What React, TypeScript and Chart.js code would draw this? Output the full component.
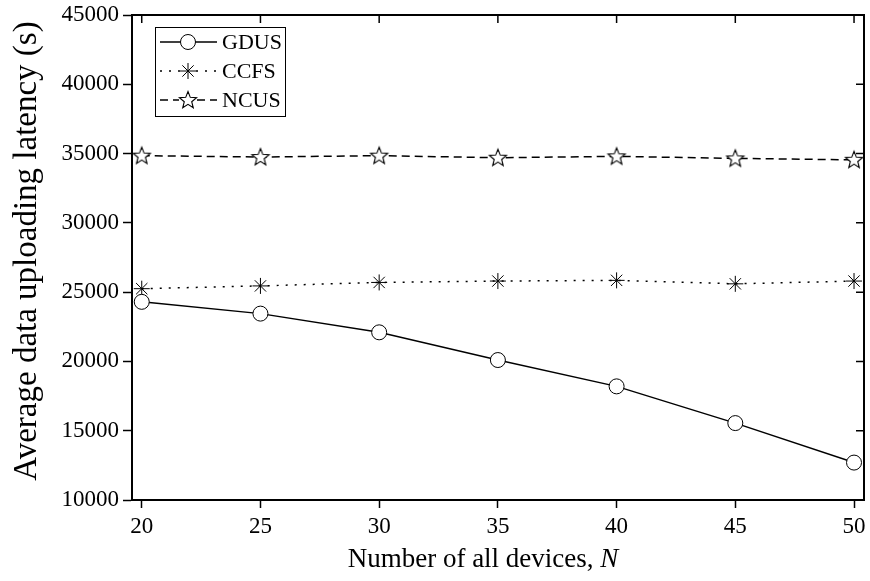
import React, { useEffect, useRef } from 'react';
import { Chart, registerables } from 'chart.js';

Chart.register(...registerables);

const deviceCounts = [20, 25, 30, 35, 40, 45, 50];
const gdusLatency = [24300, 23450, 22100, 20100, 18200, 15550, 12700];
const ccfsLatency = [25250, 25450, 25700, 25800, 25850, 25600, 25800];
const ncusLatency = [34850, 34750, 34850, 34700, 34800, 34650, 34550];
const xTickValues = [20, 25, 30, 35, 40, 45, 50];
const yTickValues = [10000, 15000, 20000, 25000, 30000, 35000, 40000, 45000];
const seriesNames = ['GDUS', 'CCFS', 'NCUS'];
const xAxisTitle = 'Number of all devices, ';
const xAxisVar = 'N';
const yAxisTitle = 'Average data uploading latency (s)';

const FONT = '"Liberation Serif", "Times New Roman", serif';

function makeStar(): HTMLCanvasElement {
  const c = document.createElement('canvas');
  c.width = 22;
  c.height = 22;
  const g = c.getContext('2d')!;
  const R = 9;
  const r = 3.9;
  g.beginPath();
  for (let i = 0; i < 10; i++) {
    const rad = i % 2 === 0 ? R : r;
    const a = -Math.PI / 2 + (i * Math.PI) / 5;
    const px = 11 + rad * Math.cos(a);
    const py = 11.5 + rad * Math.sin(a);
    if (i === 0) g.moveTo(px, py);
    else g.lineTo(px, py);
  }
  g.closePath();
  g.fillStyle = '#fff';
  g.fill();
  g.lineWidth = 1.1;
  g.strokeStyle = '#000';
  g.stroke();
  return c;
}

const zeroPadding = () => ({ left: 0, top: 0, right: 0, bottom: 0 });

export default function App() {
  const ref = useRef<HTMLCanvasElement | null>(null);

  useEffect(() => {
    if (!ref.current) return;
    const star = makeStar();

    const framePlugin = {
      id: 'framePlugin',
      afterDraw(chart: any) {
        const ctx = chart.ctx as CanvasRenderingContext2D;
        const { left, right, top, bottom } = chart.chartArea;
        const xs = chart.scales.x;
        const ys = chart.scales.y;
        ctx.save();
        ctx.strokeStyle = '#000';
        ctx.lineWidth = 2;
        ctx.beginPath();
        ctx.moveTo(left - 1, top);
        ctx.lineTo(right, top);
        ctx.lineTo(right, bottom + 1);
        ctx.stroke();
        ctx.lineWidth = 1.5;
        ctx.beginPath();
        xTickValues.forEach((v) => {
          const px = xs.getPixelForValue(v);
          ctx.moveTo(px, top);
          ctx.lineTo(px, top + 8);
        });
        yTickValues.forEach((v) => {
          const py = ys.getPixelForValue(v);
          ctx.moveTo(right, py);
          ctx.lineTo(right - 8, py);
        });
        ctx.stroke();

        // axis titles
        ctx.fillStyle = '#000';
        ctx.textBaseline = 'middle';
        ctx.font = `27px ${FONT}`;
        const w1 = ctx.measureText(xAxisTitle).width;
        ctx.font = `italic 27px ${FONT}`;
        const w2 = ctx.measureText(xAxisVar).width;
        const cx = 483;
        const startX = cx - (w1 + w2) / 2;
        ctx.textAlign = 'left';
        ctx.font = `27px ${FONT}`;
        ctx.fillText(xAxisTitle, startX, 560);
        ctx.font = `italic 27px ${FONT}`;
        ctx.fillText(xAxisVar, startX + w1, 560);

        ctx.save();
        ctx.translate(27, 251);
        ctx.rotate(-Math.PI / 2);
        ctx.textAlign = 'center';
        ctx.font = `33px ${FONT}`;
        ctx.fillText(yAxisTitle, 0, 0);
        ctx.restore();

        // legend
        const bx = 155.5, by = 27.5, bw = 130, bh = 89;
        ctx.fillStyle = '#fff';
        ctx.fillRect(bx, by, bw, bh);
        ctx.strokeStyle = '#000';
        ctx.lineWidth = 1;
        ctx.strokeRect(bx, by, bw, bh);
        const rows = [42, 71, 100];
        const dashes = [[], [2, 7], [8, 5]];
        const x0 = 160, x1 = 217, mx = 188;
        rows.forEach((ry, i) => {
          ctx.save();
          ctx.strokeStyle = '#000';
          ctx.lineWidth = 1.5;
          ctx.setLineDash(dashes[i]);
          ctx.beginPath();
          if (i === 2) {
            ctx.moveTo(x0, ry);
            ctx.lineTo(mx - 9, ry);
            ctx.moveTo(mx + 9, ry);
            ctx.lineTo(x1, ry);
          } else {
            ctx.moveTo(x0, ry);
            ctx.lineTo(x1, ry);
          }
          ctx.stroke();
          ctx.restore();
          ctx.save();
          ctx.strokeStyle = '#000';
          ctx.lineWidth = 1;
          if (i === 0) {
            ctx.beginPath();
            ctx.arc(mx, ry, 7.5, 0, Math.PI * 2);
            ctx.fillStyle = '#fff';
            ctx.fill();
            ctx.stroke();
          } else if (i === 1) {
            const r = 8;
            ctx.beginPath();
            ctx.moveTo(mx - r, ry);
            ctx.lineTo(mx + r, ry);
            ctx.moveTo(mx, ry - r);
            ctx.lineTo(mx, ry + r);
            const d = r * Math.SQRT1_2;
            ctx.moveTo(mx - d, ry - d);
            ctx.lineTo(mx + d, ry + d);
            ctx.moveTo(mx - d, ry + d);
            ctx.lineTo(mx + d, ry - d);
            ctx.stroke();
          } else {
            ctx.drawImage(star, mx - 11, ry - 11);
          }
          ctx.restore();
          ctx.fillStyle = '#000';
          ctx.font = `22px ${FONT}`;
          ctx.textAlign = 'left';
          ctx.textBaseline = 'middle';
          ctx.fillText(seriesNames[i], 222, ry + 1);
        });
        ctx.restore();
      },
    };

    const toPts = (arr: number[]) => deviceCounts.map((x, i) => ({ x, y: arr[i] }));

    const chart = new Chart(ref.current, {
      type: 'line',
      data: {
        datasets: [
          {
            label: seriesNames[0],
            data: toPts(gdusLatency),
            borderColor: '#000',
            borderWidth: 1.5,
            pointStyle: 'circle',
            pointRadius: 7.5,
            pointBackgroundColor: '#fff',
            pointBorderColor: '#000',
            pointBorderWidth: 1,
            clip: false as any,
          },
          {
            label: seriesNames[1],
            data: toPts(ccfsLatency),
            borderColor: '#000',
            borderWidth: 1.5,
            borderDash: [2, 7],
            pointStyle: 'star',
            pointRadius: 8,
            pointBackgroundColor: '#000',
            pointBorderColor: '#000',
            pointBorderWidth: 1,
            clip: false as any,
          },
          {
            label: seriesNames[2],
            data: toPts(ncusLatency),
            borderColor: '#000',
            borderWidth: 1.5,
            borderDash: [8, 5],
            pointStyle: star as any,
            pointRadius: 9,
            pointBackgroundColor: '#fff',
            pointBorderColor: '#000',
            clip: false as any,
          },
        ],
      },
      options: {
        animation: false,
        responsive: false,
        maintainAspectRatio: false,
        devicePixelRatio: 1,
        layout: { autoPadding: false, padding: { top: 15, right: 6, left: 0, bottom: 0 } } as any,
        plugins: {
          legend: { display: false },
          tooltip: { enabled: false },
        },
        scales: {
          x: {
            type: 'linear',
            min: 19.59,
            max: 50.42,
            afterBuildTicks: (s: any) => {
              s.ticks = xTickValues.map((v) => ({ value: v }));
            },
            afterFit: (s: any) => {
              s.height = 81;
              s.paddingLeft = 0;
              s.paddingRight = 0;
              s.getPadding = zeroPadding;
            },
            ticks: {
              color: '#000',
              font: { family: FONT, size: 23 },
              padding: 5,
              maxRotation: 0,
              autoSkip: false,
              callback: (v: any) => String(v),
            },
            grid: {
              drawOnChartArea: false,
              drawTicks: true,
              tickLength: 8,
              tickColor: '#000',
              tickWidth: 1.5,
            },
            border: { display: true, color: '#000', width: 2 },
          },
          y: {
            type: 'linear',
            min: 10000,
            max: 45000,
            afterBuildTicks: (s: any) => {
              s.ticks = yTickValues.map((v) => ({ value: v }));
            },
            afterFit: (s: any) => {
              s.width = 132;
              s.paddingTop = 0;
              s.paddingBottom = 0;
              s.getPadding = zeroPadding;
            },
            ticks: {
              color: '#000',
              font: { family: FONT, size: 23 },
              padding: 4,
              autoSkip: false,
              callback: (v: any) => String(v),
            },
            grid: {
              drawOnChartArea: false,
              drawTicks: true,
              tickLength: 9,
              tickColor: '#000',
              tickWidth: 1.5,
            },
            border: { display: true, color: '#000', width: 2 },
          },
        },
      },
      plugins: [framePlugin],
    });
    return () => chart.destroy();
  }, []);

  return (
    <div style={{ position: 'fixed', left: 0, top: 0, width: 870, height: 581, background: '#fff' }}>
      <canvas ref={ref} width={870} height={581} style={{ width: 870, height: 581, display: 'block' }} />
    </div>
  );
}
